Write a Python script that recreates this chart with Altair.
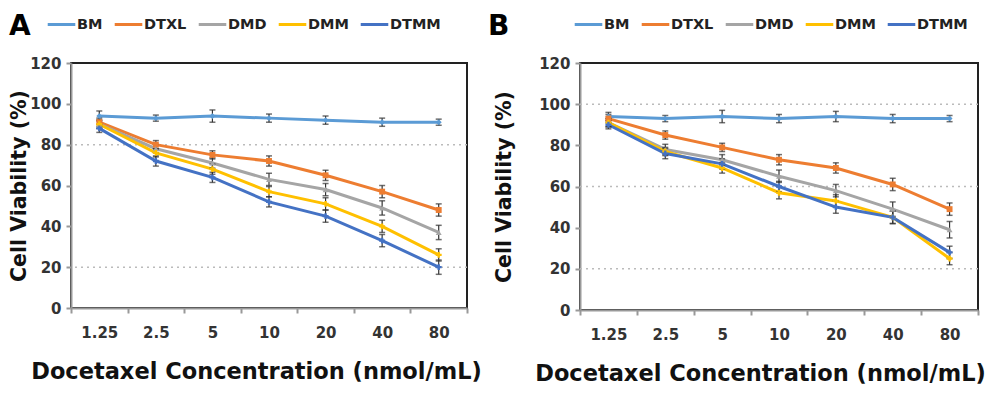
import altair as alt
import pandas as pd

CONC = ["1.25", "2.5", "5", "10", "20", "40", "80"]
SERIES = ["BM", "DTXL", "DMD", "DMM", "DTMM"]
COLORS = ["#5B9BD5", "#ED7D31", "#A5A5A5", "#FFC000", "#4472C4"]
SHAPES = ["diamond", "square", "triangle-up", "cross", "cross"]

# Panel A values (%)
A_BM = [94, 93, 94, 93, 92, 91, 91]
A_DTXL = [91, 80, 75, 72, 65, 57, 48]
A_DMD = [90, 78, 71, 63, 58, 49, 37]
A_DMM = [90, 76, 68, 57, 51, 40, 26]
A_DTMM = [88, 72, 64, 52, 45, 33, 20]
A_BM_ERR = [2.5, 1.5, 3, 2, 2, 2, 1.5]
A_DTXL_ERR = [2, 2, 2, 2.5, 2.5, 3, 3]
A_DMD_ERR = [2, 2, 2.5, 3, 3, 3.5, 3.5]
A_DMM_ERR = [2, 2, 2.5, 2.5, 3, 3, 3]
A_DTMM_ERR = [2, 2.5, 2.5, 2.5, 3, 3, 3.5]
A_GRID = [20, 80]

# Panel B values (%)
B_BM = [94, 93, 94, 93, 94, 93, 93]
B_DTXL = [93, 85, 79, 73, 69, 61, 49]
B_DMD = [91, 78, 73, 65, 58, 49, 39]
B_DMM = [91, 77, 69, 57, 53, 45, 25]
B_DTMM = [90, 76, 71, 60, 50, 45, 28]
B_BM_ERR = [2, 1.5, 3, 2, 2.5, 2, 1.5]
B_DTXL_ERR = [2, 2, 2, 2.5, 2.5, 3, 3]
B_DMD_ERR = [2, 2.5, 2.5, 3, 3, 3.5, 4]
B_DMM_ERR = [2, 2, 2.5, 3, 3, 3, 3]
B_DTMM_ERR = [2, 2.5, 2.5, 2.5, 3, 3, 3]
B_GRID = [20, 60, 100]

FONT = "DejaVu Sans"


def panel(letter, vals, errs, grid, w, h, ytitle_pad, letter_x, legend_x, xtitle_dx):
    rows = []
    for s, v, e in zip(SERIES, vals, errs):
        for c, y, d in zip(CONC, v, e):
            rows.append({"conc": c, "series": s, "v": y, "lo": y - d, "hi": y + d})
    df = pd.DataFrame(rows)
    base = alt.Chart(df)

    x = alt.X(
        "conc:N",
        sort=CONC,
        scale=alt.Scale(type="band", domain=CONC, paddingInner=0, paddingOuter=0),
        axis=alt.Axis(
            title="Docetaxel Concentration (nmol/mL)",
            labelAngle=0,
            tickBand="extent",
            ticks=True,
            tickSize=5,
            tickWidth=2,
            tickColor="#999999",
            domainColor="#999999",
            domainWidth=2,
            labelFont=FONT,
            labelFontSize=15,
            labelFontWeight="bold",
            labelColor="#333333",
            labelPadding=12,
            titleFont=FONT,
            titleFontSize=22.5,
            titleFontWeight="bold",
            titleColor="#111111",
            titlePadding=20,
            titleX=w / 2 + xtitle_dx,
            grid=False,
        ),
    )
    xs = alt.X("conc:N", sort=CONC)
    y = alt.Y(
        "v:Q",
        scale=alt.Scale(domain=[0, 120], nice=False),
        axis=alt.Axis(
            title="Cell Viability (%)",
            values=[0, 20, 40, 60, 80, 100, 120],
            tickSize=5,
            tickWidth=2,
            tickColor="#999999",
            domainColor="#999999",
            domainWidth=2,
            labelFont=FONT,
            labelFontSize=15,
            labelFontWeight="bold",
            labelColor="#333333",
            labelPadding=5,
            titleFont=FONT,
            titleFontSize=20.5,
            titleFontWeight="bold",
            titleColor="#111111",
            titlePadding=ytitle_pad,
            grid=False,
        ),
    )
    color = alt.Color(
        "series:N",
        sort=SERIES,
        scale=alt.Scale(domain=SERIES, range=COLORS),
        legend=alt.Legend(
            title=None,
            orient="none",
            direction="horizontal",
            legendX=legend_x,
            legendY=-54,
            symbolType="stroke",
            symbolSize=760,
            symbolStrokeWidth=3,
            labelFont=FONT,
            labelFontSize=14.5,
            labelFontWeight="bold",
            labelColor="#222222",
            labelOffset=0,
            columnPadding=5,
        ),
    )

    gdf = pd.DataFrame({"g": grid})
    grid_layer = alt.Chart(gdf).mark_rule(
        color="#bbbbbb", strokeDash=[2, 4], strokeWidth=1.5
    ).encode(y=alt.Y("g:Q"))

    lines = base.mark_line(strokeWidth=3).encode(x=x, y=y, color=color)
    bars = base.mark_errorbar(
        ticks={"size": 6, "thickness": 1.5, "color": "#333333"},
        rule={"color": "#333333", "strokeWidth": 1.2},
    ).encode(x=xs, y=alt.Y("lo:Q", title="Cell Viability (%)"), y2="hi:Q")

    point_layers = []
    for s, col, sh in zip(SERIES, COLORS, SHAPES):
        point_layers.append(
            base.transform_filter(alt.datum.series == s)
            .mark_point(filled=True, size=35, opacity=1, shape=sh, fill=col, strokeWidth=0)
            .encode(x=xs, y="v:Q")
        )

    letter_layer = alt.Chart(pd.DataFrame({"t": [letter]})).mark_text(
        font=FONT, fontSize=28, fontWeight="bold", align="left", baseline="top", color="#000000"
    ).encode(text="t:N", x=alt.value(letter_x), y=alt.value(-50))

    return alt.layer(grid_layer, lines, bars, *point_layers, letter_layer).properties(width=w, height=h)


pa = panel("A", [A_BM, A_DTXL, A_DMD, A_DMM, A_DTMM],
           [A_BM_ERR, A_DTXL_ERR, A_DMD_ERR, A_DMM_ERR, A_DTMM_ERR],
           A_GRID, 396, 245, 0, -62, -25, -13)
pb = panel("B", [B_BM, B_DTXL, B_DMD, B_DMM, B_DTMM],
           [B_BM_ERR, B_DTXL_ERR, B_DMD_ERR, B_DMM_ERR, B_DTMM_ERR],
           B_GRID, 398, 247, 24, -92, -7, -19)

chart = (
    alt.hconcat(pa, pb, spacing=113, bounds="flush")
    .resolve_scale(color="independent")
    .resolve_legend(color="independent")
    .properties(padding=0)
    .configure_view(stroke="#222222", strokeWidth=2)
)

chart.save("out.html", embed_options={"renderer": "svg", "actions": False})
